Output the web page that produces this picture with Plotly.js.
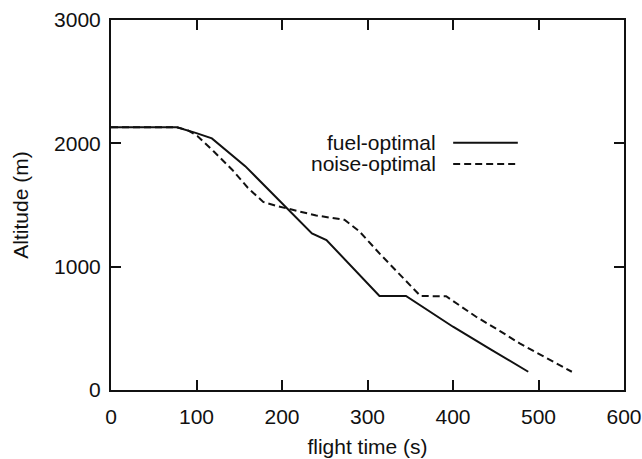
<!DOCTYPE html>
<html>
<head>
<meta charset="utf-8">
<script src="https://cdn.plot.ly/plotly-3.0.1.min.js"></script>
<style>html,body{margin:0;padding:0;background:#fff;}#chart{width:642px;height:459px;}</style>
</head>
<body>
<div id="chart"></div>
<script>
// flight time (s) and altitude (m)
const fuelTime = [0, 77, 99, 118, 157, 208, 235, 252, 283, 314, 345, 370, 400, 444, 488];
const fuelAlt  = [2131, 2131, 2085, 2040, 1815, 1462, 1270, 1216, 990, 762, 762, 650, 513, 330, 148];

const noiseTime = [0, 77, 90, 101, 120, 142, 160, 178, 195, 212, 240, 273, 290, 315, 340, 362, 392, 427, 455, 478, 539];
const noiseAlt  = [2131, 2131, 2105, 2060, 1935, 1784, 1640, 1525, 1490, 1460, 1415, 1380, 1290, 1100, 920, 762, 760, 594, 478, 378, 148];

const seriesNames = ['fuel-optimal', 'noise-optimal'];
const xTicks = [0, 100, 200, 300, 400, 500, 600];
const yTicks = [0, 1000, 2000, 3000];

const FONT = 'Liberation Sans, Arial, Helvetica, sans-serif';
const INK = '#111';

const traces = [
  {x: fuelTime, y: fuelAlt, name: seriesNames[0], mode: 'lines',
   line: {color: INK, width: 2, dash: 'solid'}, showlegend: false},
  {x: noiseTime, y: noiseAlt, name: seriesNames[1], mode: 'lines',
   line: {color: INK, width: 2, dash: '7px,4px'}, showlegend: false}
];

const axisCommon = {
  showgrid: false, zeroline: false, showline: true, mirror: 'ticks',
  linecolor: INK, linewidth: 2, ticks: 'inside', ticklen: 10, tickwidth: 2,
  tickcolor: INK, tickfont: {family: FONT, size: 21, color: INK}
};

const layout = {
  width: 642, height: 459,
  margin: {l: 111, r: 18, t: 20, b: 69},
  paper_bgcolor: '#fff', plot_bgcolor: '#fff',
  font: {family: FONT, size: 21, color: INK},
  xaxis: Object.assign({}, axisCommon, {
    range: [0, 600], tickvals: xTicks, ticktext: xTicks.map(String),
    ticklabelstandoff: 7,
    title: {text: 'flight time (s)', font: {family: FONT, size: 21, color: INK}, standoff: 12}
  }),
  yaxis: Object.assign({}, axisCommon, {
    range: [0, 3000], tickvals: yTicks, ticktext: yTicks.map(String),
    ticklabelstandoff: 4,
    title: {text: 'Altitude (m)', font: {family: FONT, size: 21, color: INK}, standoff: 20}
  }),
  annotations: [
    {xref: 'paper', yref: 'paper', x: 0.637, y: 0.668, xanchor: 'right', yanchor: 'middle',
     text: seriesNames[0], showarrow: false, font: {family: FONT, size: 21, color: INK}},
    {xref: 'paper', yref: 'paper', x: 0.637, y: 0.611, xanchor: 'right', yanchor: 'middle',
     text: seriesNames[1], showarrow: false, font: {family: FONT, size: 21, color: INK}}
  ],
  shapes: [
    {type: 'line', xref: 'paper', yref: 'paper', x0: 0.667, x1: 0.793, y0: 0.668, y1: 0.668,
     line: {color: INK, width: 2}},
    {type: 'line', xref: 'paper', yref: 'paper', x0: 0.667, x1: 0.793, y0: 0.611, y1: 0.611,
     line: {color: INK, width: 2, dash: '7px,4px'}}
  ]
};

Plotly.newPlot('chart', traces, layout, {displayModeBar: false, staticPlot: true});
</script>
</body>
</html>
